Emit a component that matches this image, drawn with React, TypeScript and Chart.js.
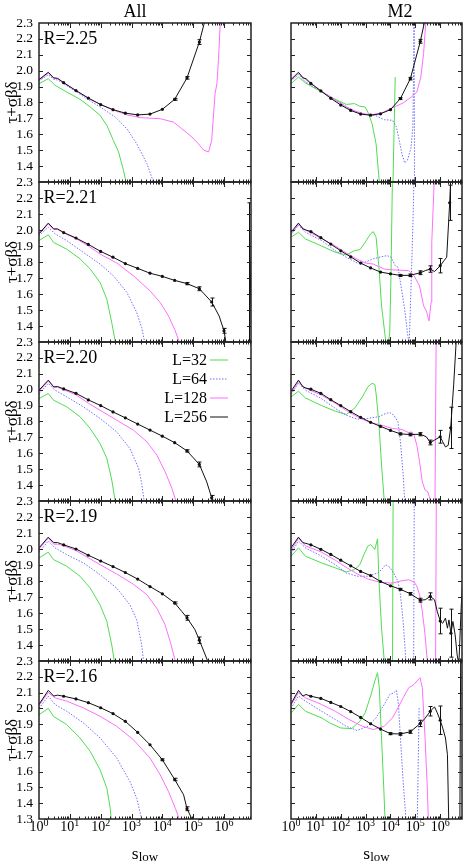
import { useEffect, useRef } from "react";
import { Chart, registerables } from "chart.js";
Chart.register(...registerables);

// Every point is [log10(s_low), tau+sigma*beta*delta].
// Black (L=256) points carry a third value: the error bar half-height (null = no marker).
type P = [number, number];
type B = [number, number, number | null];

const FONT = "'Liberation Serif', 'Times New Roman', Times, serif";
const COLUMNS = ["All", "M2"];
const R_LABELS = ["R=2.25", "R=2.21", "R=2.20", "R=2.19", "R=2.16"];
const SERIES = ["L=32", "L=64", "L=128", "L=256"];
const Y_TICKS = [1.3, 1.4, 1.5, 1.6, 1.7, 1.8, 1.9, 2.0, 2.1, 2.2, 2.3];
const X_DECADES = [0, 1, 2, 3, 4, 5, 6];
const X_MIN = 1;
const X_MAX = 7.5e6;
const COLORS = ["rgb(80,220,80)", "rgb(110,110,255)", "rgb(255,110,255)", "#111111"];
const DASH: number[][] = [[], [1.5, 1.5], [], []];

// ---------- R = 2.25 ----------
const A225_32: P[] = [[0,1.918],[0.301,1.95],[0.52,1.908],[0.9,1.866],[1.33,1.82],[1.66,1.772],[1.98,1.72],[2.2,1.656],[2.41,1.562],[2.58,1.489],[2.74,1.373],[2.82,1.3],[2.9,1.15]];
const A225_64: P[] = [[0,1.935],[0.301,1.975],[0.477,1.945],[0.602,1.942],[0.8,1.918],[1.2,1.868],[1.6,1.818],[1.98,1.772],[2.47,1.709],[2.85,1.635],[3.17,1.54],[3.5,1.415],[3.71,1.3],[3.8,1.2]];
const A225_128: P[] = [[0,1.94],[0.301,1.985],[0.477,1.953],[0.602,1.95],[0.8,1.924],[1.2,1.874],[1.6,1.827],[2.0,1.786],[2.4,1.753],[2.85,1.722],[3.28,1.705],[3.93,1.698],[4.36,1.677],[4.63,1.635],[4.96,1.583],[5.17,1.54],[5.34,1.5],[5.5,1.489],[5.6,1.562],[5.71,1.855],[5.77,1.92],[5.82,2.065],[5.89,2.35]];
const A225_256: B[] = [[0,1.944,null],[0.301,1.99,null],[0.477,1.955,null],[0.602,1.952,null],[0.8,1.925,0.003],[1.2,1.875,0.003],[1.6,1.828,0.003],[2.0,1.787,0.003],[2.4,1.755,0.003],[2.8,1.733,0.003],[3.2,1.722,0.004],[3.6,1.727,0.004],[4.0,1.757,0.005],[4.4,1.82,0.006],[4.8,1.955,0.008],[5.2,2.18,0.015],[5.36,2.3,null],[5.5,2.6,null]];
const M225_32: P[] = [[0,1.918],[0.301,1.96],[0.58,1.923],[1.23,1.866],[1.78,1.82],[2.22,1.788],[2.55,1.793],[2.77,1.776],[2.98,1.772],[3.09,1.74],[3.26,1.667],[3.42,1.54],[3.55,1.3],[3.6,1.0],[4.06,1.0],[4.19,1.96]];
const M225_64: P[] = [[0,1.935],[0.301,1.975],[0.58,1.93],[1.23,1.87],[1.78,1.818],[2.22,1.775],[2.6,1.74],[3.0,1.725],[3.37,1.72],[3.75,1.692],[4.08,1.688],[4.24,1.646],[4.35,1.562],[4.46,1.478],[4.57,1.42],[4.68,1.436],[4.82,1.51],[4.9,1.646],[4.93,2.02],[4.95,2.4],[4.97,1.0]];
const M225_128: P[] = [[0,1.94],[0.301,1.985],[0.58,1.945],[1.23,1.872],[1.78,1.815],[2.22,1.772],[2.6,1.745],[3.0,1.727],[3.3,1.725],[3.64,1.734],[4.08,1.767],[4.51,1.797],[4.84,1.835],[5.06,1.866],[5.22,1.96],[5.33,2.107],[5.44,2.35]];
const M225_256: B[] = [[0,1.944,null],[0.301,1.99,null],[0.477,1.955,null],[0.602,1.95,null],[0.8,1.92,0.003],[1.2,1.873,0.003],[1.6,1.826,0.003],[2.0,1.784,0.003],[2.4,1.75,0.003],[2.8,1.727,0.003],[3.2,1.72,0.004],[3.6,1.729,0.004],[4.0,1.755,0.005],[4.4,1.825,0.006],[4.8,1.95,0.008],[5.2,2.185,0.012],[5.36,2.3,null],[5.5,2.6,null]];

// ---------- R = 2.21 ----------
const A221_32: P[] = [[0,1.934],[0.301,1.97],[0.47,1.923],[0.9,1.88],[1.33,1.82],[1.66,1.756],[1.98,1.672],[2.2,1.568],[2.36,1.42],[2.47,1.305],[2.55,1.2]];
const A221_64: P[] = [[0,1.965],[0.301,2.018],[0.52,1.976],[0.9,1.934],[1.44,1.86],[1.98,1.787],[2.41,1.714],[2.85,1.61],[3.17,1.484],[3.33,1.39],[3.42,1.306],[3.5,1.2]];
const A221_128: P[] = [[0,1.975],[0.301,2.038],[0.477,2.003],[0.602,2.003],[0.8,1.982],[1.2,1.946],[1.6,1.9],[1.98,1.85],[2.52,1.794],[3.06,1.714],[3.6,1.62],[3.93,1.547],[4.2,1.463],[4.42,1.369],[4.55,1.3],[4.65,1.2]];
const A221_256: B[] = [[0,1.976,null],[0.301,2.043,null],[0.477,2.007,null],[0.602,2.007,null],[0.8,1.984,0.003],[1.2,1.95,0.003],[1.6,1.91,0.003],[2.0,1.866,0.003],[2.4,1.83,0.003],[2.8,1.79,0.003],[3.2,1.76,0.004],[3.6,1.73,0.004],[4.0,1.71,0.004],[4.4,1.685,0.005],[4.8,1.665,0.007],[5.2,1.633,0.012],[5.6,1.55,0.025],[5.84,1.463,null],[6.0,1.37,0.015],[6.06,1.3,null],[6.4,0.8,null],[6.78,0.8,null],[6.82,1.25,0.92],[6.9,2.1,null]];
const M221_32: P[] = [[0,1.955],[0.301,1.986],[0.58,1.944],[1.23,1.9],[1.78,1.861],[2.22,1.844],[2.55,1.871],[2.77,1.877],[2.98,1.923],[3.2,1.976],[3.31,1.99],[3.42,1.955],[3.53,1.777],[3.64,1.526],[3.8,1.317],[3.85,1.28],[3.91,1.29],[3.97,1.358],[4.02,1.714],[4.08,2.35]];
const M221_64: P[] = [[0,1.97],[0.301,2.03],[0.58,1.986],[1.23,1.934],[1.78,1.87],[2.22,1.83],[2.66,1.794],[2.9,1.794],[3.31,1.82],[3.64,1.833],[3.86,1.84],[4.02,1.83],[4.19,1.777],[4.3,1.767],[4.4,1.672],[4.57,1.505],[4.68,1.36],[4.75,1.28],[4.84,1.714],[4.9,2.03],[4.95,2.35]];
const M221_128: P[] = [[0,1.975],[0.301,2.038],[0.58,2.0],[1.23,1.946],[1.78,1.9],[2.22,1.857],[2.6,1.822],[3.0,1.793],[3.31,1.787],[3.75,1.756],[4.19,1.75],[4.73,1.746],[4.95,1.714],[5.17,1.65],[5.33,1.526],[5.44,1.495],[5.55,1.432],[5.63,1.547],[5.66,1.923],[5.77,2.35]];
const M221_256: B[] = [[0,1.986,null],[0.301,2.043,null],[0.477,2.007,null],[0.602,2.0,null],[0.8,1.99,0.003],[1.2,1.952,0.003],[1.6,1.912,0.003],[2.0,1.87,0.003],[2.4,1.832,0.003],[2.8,1.793,0.003],[3.2,1.763,0.004],[3.6,1.737,0.004],[4.0,1.726,0.005],[4.4,1.716,0.006],[4.8,1.717,0.008],[5.2,1.733,0.012],[5.4,1.746,null],[5.6,1.756,0.02],[5.77,1.74,null],[6.0,1.777,0.045],[6.15,1.808,null],[6.26,1.83,null],[6.38,2.17,0.11],[6.43,2.35,null]];

// ---------- R = 2.20 ----------
const A220_32: P[] = [[0,1.944],[0.301,1.976],[0.47,1.934],[0.9,1.892],[1.33,1.83],[1.66,1.756],[1.98,1.662],[2.2,1.568],[2.36,1.432],[2.47,1.3],[2.55,1.2]];
const A220_64: P[] = [[0,1.975],[0.301,2.04],[0.52,1.997],[0.9,1.955],[1.44,1.892],[1.98,1.819],[2.52,1.735],[2.95,1.63],[3.23,1.505],[3.33,1.41],[3.41,1.3],[3.5,1.2]];
const A220_128: P[] = [[0,1.99],[0.301,2.055],[0.477,2.015],[0.602,2.015],[0.8,2.0],[1.2,1.968],[1.6,1.915],[1.98,1.871],[2.52,1.808],[3.06,1.746],[3.5,1.672],[3.82,1.589],[4.09,1.484],[4.31,1.38],[4.44,1.3],[4.55,1.2]];
const A220_256: B[] = [[0,1.997,null],[0.301,2.06,null],[0.477,2.018,null],[0.602,2.02,null],[0.8,2.005,0.003],[1.2,1.977,0.003],[1.6,1.936,0.003],[2.0,1.9,0.003],[2.4,1.86,0.003],[2.8,1.823,0.003],[3.2,1.784,0.003],[3.6,1.746,0.004],[4.0,1.708,0.004],[4.4,1.667,0.005],[4.8,1.615,0.007],[5.2,1.53,0.015],[5.44,1.42,null],[5.6,1.32,0.015],[5.7,1.2,null]];
const M220_32: P[] = [[0,1.955],[0.301,1.99],[0.58,1.948],[1.23,1.9],[1.78,1.865],[2.22,1.844],[2.55,1.882],[2.87,1.955],[3.09,2.018],[3.26,2.04],[3.37,2.033],[3.42,1.976],[3.53,1.798],[3.64,1.526],[3.75,1.3],[3.82,1.2]];
const M220_64: P[] = [[0,1.97],[0.301,2.043],[0.58,1.997],[1.23,1.944],[1.78,1.882],[2.22,1.84],[2.66,1.815],[3.09,1.82],[3.53,1.83],[3.8,1.85],[3.97,1.856],[4.13,1.84],[4.3,1.798],[4.4,1.672],[4.51,1.463],[4.57,1.306],[4.62,1.2]];
const M220_128: P[] = [[0,1.975],[0.301,2.05],[0.58,2.01],[1.23,1.965],[1.78,1.915],[2.22,1.87],[2.6,1.835],[3.0,1.805],[3.3,1.79],[3.64,1.777],[4.08,1.756],[4.46,1.75],[4.73,1.73],[4.84,1.735],[4.95,1.714],[5.06,1.65],[5.17,1.547],[5.28,1.42],[5.39,1.369],[5.5,1.358],[5.58,1.317],[5.65,1.1],[5.78,1.1],[5.84,2.4]];
const M220_256: B[] = [[0,1.99,null],[0.301,2.06,null],[0.477,2.018,null],[0.602,2.01,null],[0.8,2.003,0.003],[1.2,1.977,0.003],[1.6,1.937,0.003],[2.0,1.9,0.003],[2.4,1.862,0.003],[2.8,1.826,0.003],[3.2,1.795,0.004],[3.6,1.769,0.004],[4.0,1.744,0.005],[4.4,1.722,0.006],[4.8,1.718,0.008],[5.2,1.72,0.01],[5.44,1.704,null],[5.6,1.668,0.015],[5.77,1.683,null],[6.0,1.704,0.04],[6.1,1.672,null],[6.21,1.64,null],[6.32,1.65,null],[6.42,1.76,0.13],[6.54,2.03,null],[6.64,2.3,null],[6.7,2.5,null]];

// ---------- R = 2.19 ----------
const A219_32: P[] = [[0,1.944],[0.301,1.98],[0.47,1.934],[0.9,1.892],[1.33,1.83],[1.66,1.756],[1.98,1.651],[2.2,1.547],[2.36,1.4],[2.44,1.3],[2.52,1.2]];
const A219_64: P[] = [[0,1.98],[0.301,2.05],[0.52,2.007],[0.9,1.965],[1.44,1.913],[1.98,1.84],[2.52,1.756],[2.95,1.651],[3.17,1.557],[3.33,1.4],[3.39,1.3],[3.45,1.2]];
const A219_128: P[] = [[0,2.0],[0.301,2.068],[0.477,2.03],[0.602,2.03],[0.8,2.02],[1.2,1.99],[1.6,1.945],[1.98,1.902],[2.52,1.844],[3.06,1.78],[3.5,1.714],[3.82,1.63],[4.09,1.526],[4.27,1.41],[4.42,1.3],[4.5,1.2]];
const A219_256: B[] = [[0,2.007,null],[0.301,2.074,null],[0.477,2.04,null],[0.602,2.04,null],[0.8,2.026,0.003],[1.2,2.0,0.003],[1.6,1.961,0.003],[2.0,1.925,0.003],[2.4,1.89,0.003],[2.8,1.853,0.003],[3.2,1.812,0.004],[3.6,1.765,0.004],[4.0,1.72,0.005],[4.4,1.663,0.006],[4.63,1.61,null],[4.8,1.57,0.015],[5.06,1.495,null],[5.2,1.43,0.02],[5.47,1.3,null],[5.6,1.2,null]];
const M219_32: P[] = [[0,1.955],[0.301,2.007],[0.58,1.955],[1.23,1.913],[1.78,1.882],[2.22,1.856],[2.55,1.871],[2.77,1.902],[2.93,1.965],[3.09,2.018],[3.2,2.028],[3.37,1.997],[3.48,2.064],[3.53,1.82],[3.64,1.505],[3.75,1.3],[3.9,0.8],[4.07,0.8],[4.11,2.5]];
const M219_64: P[] = [[0,1.97],[0.301,2.05],[0.58,2.007],[1.23,1.955],[1.78,1.902],[2.22,1.85],[2.66,1.83],[3.09,1.83],[3.48,1.85],[3.64,1.871],[3.8,1.902],[3.97,1.886],[4.13,1.85],[4.3,1.798],[4.4,1.714],[4.51,1.547],[4.62,1.3],[4.7,0.8],[4.92,0.8],[4.96,2.5]];
const M219_128: P[] = [[0,1.99],[0.301,2.068],[0.58,2.02],[1.23,1.98],[1.78,1.93],[2.22,1.885],[2.66,1.845],[3.09,1.812],[3.64,1.79],[4.08,1.787],[4.4,1.8],[4.73,1.808],[4.95,1.794],[5.06,1.767],[5.17,1.714],[5.28,1.61],[5.39,1.463],[5.48,1.3],[5.6,0.8],[5.8,0.8],[5.85,2.6]];
const M219_256: B[] = [[0,2.007,null],[0.301,2.074,null],[0.477,2.04,null],[0.602,2.035,null],[0.8,2.026,0.003],[1.2,1.998,0.003],[1.6,1.966,0.003],[2.0,1.93,0.003],[2.4,1.895,0.003],[2.8,1.86,0.003],[3.2,1.834,0.004],[3.6,1.797,0.004],[4.0,1.77,0.005],[4.4,1.748,0.006],[4.8,1.72,0.008],[5.2,1.68,0.012],[5.4,1.683,null],[5.6,1.704,0.022],[5.77,1.683,null],[5.88,1.61,null],[6.0,1.55,0.08],[6.1,1.536,null],[6.21,1.568,null],[6.29,1.505,null],[6.35,1.557,null],[6.43,1.474,0.15],[6.51,1.547,null],[6.6,1.463,null],[6.68,1.338,null],[6.75,1.28,null],[6.84,1.63,null],[6.9,1.8,null]];

// ---------- R = 2.16 ----------
const A216_32: P[] = [[0,1.96],[0.301,2.0],[0.47,1.95],[0.9,1.897],[1.33,1.813],[1.66,1.728],[1.98,1.612],[2.2,1.495],[2.31,1.368],[2.34,1.3],[2.4,1.2]];
const A216_64: P[] = [[0,2.0],[0.301,2.078],[0.52,2.025],[0.9,1.982],[1.44,1.908],[1.98,1.813],[2.52,1.686],[2.95,1.537],[3.17,1.43],[3.33,1.3],[3.4,1.2]];
const A216_128: P[] = [[0,2.02],[0.301,2.1],[0.52,2.067],[0.9,2.046],[1.44,2.003],[1.98,1.95],[2.52,1.887],[3.06,1.802],[3.6,1.686],[3.93,1.58],[4.2,1.474],[4.42,1.368],[4.55,1.3],[4.62,1.2]];
const A216_256: B[] = [[0,2.025,null],[0.301,2.114,null],[0.477,2.078,null],[0.602,2.084,null],[0.8,2.077,0.003],[1.2,2.06,0.003],[1.6,2.036,0.003],[2.0,2.004,0.003],[2.4,1.967,0.003],[2.8,1.918,0.004],[3.2,1.848,0.004],[3.6,1.77,0.005],[4.0,1.675,0.006],[4.4,1.55,0.008],[4.69,1.453,null],[4.8,1.365,0.012],[4.96,1.3,null],[5.1,1.1,null]];
const M216_32: P[] = [[0,1.97],[0.301,2.025],[0.58,1.982],[1.23,1.94],[1.56,1.908],[2.0,1.876],[2.44,1.872],[2.77,1.919],[2.98,1.972],[3.2,2.078],[3.37,2.173],[3.48,2.226],[3.55,2.13],[3.64,1.813],[3.73,1.495],[3.78,1.3],[3.85,1.1]];
const M216_64: P[] = [[0,2.0],[0.301,2.078],[0.58,2.046],[1.23,1.982],[1.78,1.93],[2.22,1.887],[2.66,1.86],[3.09,1.887],[3.42,1.94],[3.75,2.025],[3.97,2.088],[4.13,2.099],[4.24,2.114],[4.32,2.025],[4.4,1.813],[4.51,1.537],[4.62,1.3],[4.7,1.0],[5.05,1.0],[5.15,2.003]];
const M216_128: P[] = [[0,2.02],[0.301,2.1],[0.58,2.067],[1.23,2.025],[1.78,1.982],[2.33,1.93],[2.87,1.887],[3.31,1.866],[3.75,1.887],[4.08,1.94],[4.3,2.003],[4.51,2.067],[4.73,2.13],[4.95,2.152],[5.06,2.173],[5.19,2.194],[5.28,2.13],[5.39,1.813],[5.48,1.495],[5.52,1.3],[5.58,1.1]];
const M216_256: B[] = [[0,2.029,null],[0.301,2.114,null],[0.477,2.078,null],[0.602,2.088,null],[0.8,2.077,0.003],[1.2,2.063,0.003],[1.6,2.038,0.003],[2.0,2.012,0.003],[2.4,1.98,0.003],[2.8,1.943,0.004],[3.2,1.903,0.004],[3.6,1.869,0.005],[4.0,1.84,0.006],[4.4,1.838,0.008],[4.8,1.852,0.01],[5.2,1.905,0.02],[5.38,1.935,null],[5.6,1.982,0.03],[5.77,2.01,null],[5.88,1.972,null],[6.0,1.925,0.09],[6.1,1.876,null],[6.21,1.813,null],[6.29,1.707,null],[6.34,1.3,null],[6.4,1.0,null],[6.78,1.0,null],[6.83,2.6,null]];

const PANELS: [P[], P[], P[], B[]][][] = [
  [[A225_32, A225_64, A225_128, A225_256], [M225_32, M225_64, M225_128, M225_256]],
  [[A221_32, A221_64, A221_128, A221_256], [M221_32, M221_64, M221_128, M221_256]],
  [[A220_32, A220_64, A220_128, A220_256], [M220_32, M220_64, M220_128, M220_256]],
  [[A219_32, A219_64, A219_128, A219_256], [M219_32, M219_64, M219_128, M219_256]],
  [[A216_32, A216_64, A216_128, A216_256], [M216_32, M216_64, M216_128, M216_256]],
];

// page layout of the plot frames
const TOPS = [23, 182, 342, 501, 661];
const BOTS = [182, 342, 501, 661, 819];

function decorPlugin(row: number, col: number) {
  return {
    id: "decor" + row + col,
    afterDraw(chart: any) {
      const { ctx, chartArea: a } = chart;
      const xs = chart.scales.x;
      const ys = chart.scales.y;
      const black = chart.data.datasets[3].data as any[];
      // error bars
      ctx.save();
      ctx.beginPath();
      ctx.rect(a.left, a.top, a.right - a.left, a.bottom - a.top);
      ctx.clip();
      ctx.strokeStyle = COLORS[3];
      ctx.lineWidth = 1;
      ctx.beginPath();
      for (const p of black) {
        if (p.e == null || p.e < 0.006) continue;
        const px = Math.round(xs.getPixelForValue(p.x)) + 0.5;
        const y1 = ys.getPixelForValue(p.y + p.e);
        const y2 = ys.getPixelForValue(p.y - p.e);
        ctx.moveTo(px, y1);
        ctx.lineTo(px, y2);
        ctx.moveTo(px - 2, y1);
        ctx.lineTo(px + 2, y1);
        ctx.moveTo(px - 2, y2);
        ctx.lineTo(px + 2, y2);
      }
      ctx.stroke();
      ctx.restore();

      ctx.save();
      // frame
      ctx.strokeStyle = "#222";
      ctx.lineWidth = 1.5;
      ctx.strokeRect(a.left, a.top, a.right - a.left, a.bottom - a.top);
      // ticks
      ctx.lineWidth = 1;
      ctx.beginPath();
      for (const v of Y_TICKS.slice(1, -1)) {
        const py = Math.round(ys.getPixelForValue(v)) + 0.5;
        ctx.moveTo(a.left, py);
        ctx.lineTo(a.left + 4, py);
        ctx.moveTo(a.right, py);
        ctx.lineTo(a.right - 4, py);
      }
      for (const d of X_DECADES) {
        for (let m = 1; m <= 9; m++) {
          const v = m * Math.pow(10, d);
          if (v <= X_MIN || v >= X_MAX) continue;
          const px = Math.round(xs.getPixelForValue(v)) + 0.5;
          const len = m === 1 ? 5 : 2.5;
          ctx.moveTo(px, a.bottom);
          ctx.lineTo(px, a.bottom - len);
          ctx.moveTo(px, a.top);
          ctx.lineTo(px, a.top + len);
        }
      }
      ctx.stroke();

      ctx.fillStyle = "#000";
      ctx.textBaseline = "alphabetic";
      // column titles
      if (row === 0) {
        ctx.font = `18px ${FONT}`;
        ctx.textAlign = "center";
        ctx.fillText(COLUMNS[col], a.left + (col === 0 ? 96 : 109), a.top - 6);
      }
      // R label
      if (col === 0) {
        ctx.font = `18px ${FONT}`;
        ctx.textAlign = "left";
        ctx.fillText(R_LABELS[row], a.left + 4.5, a.top + 20.5);
      }
      // legend
      if (row === 2 && col === 0) {
        ctx.font = `16px ${FONT}`;
        SERIES.forEach((lab, i) => {
          const cy = a.top + 17.5 + 19 * i;
          ctx.textAlign = "right";
          ctx.fillStyle = "#000";
          ctx.fillText(lab, a.right - 44, cy + 5.5);
          ctx.strokeStyle = COLORS[i];
          ctx.setLineDash(DASH[i]);
          ctx.beginPath();
          ctx.moveTo(a.right - 41, cy + 0.5);
          ctx.lineTo(a.right - 23, cy + 0.5);
          ctx.stroke();
          ctx.setLineDash([]);
        });
      }
      // x tick labels and axis title
      if (row === 4) {
        ctx.textAlign = "left";
        for (const d of X_DECADES) {
          const px = xs.getPixelForValue(Math.pow(10, d));
          ctx.font = `14px ${FONT}`;
          const w1 = ctx.measureText("10").width;
          ctx.font = `10px ${FONT}`;
          const w2 = ctx.measureText(String(d)).width;
          const x0 = px - (w1 + w2) / 2;
          ctx.font = `14px ${FONT}`;
          ctx.fillText("10", x0, a.bottom + 12);
          ctx.font = `10px ${FONT}`;
          ctx.fillText(String(d), x0 + w1, a.bottom + 6.5);
        }
        ctx.font = `17.5px ${FONT}`;
        const ws = ctx.measureText("s").width;
        ctx.font = `13px ${FONT}`;
        const wl = ctx.measureText("low").width;
        const cx = (a.left + a.right) / 2 - (ws + wl) / 2;
        ctx.font = `17.5px ${FONT}`;
        ctx.fillText("s", cx, a.bottom + 40);
        ctx.font = `13px ${FONT}`;
        ctx.fillText("low", cx + ws, a.bottom + 42);
      }
      ctx.restore();
    },
  };
}

function Panel({ row, col }: { row: number; col: number }) {
  const ref = useRef<HTMLCanvasElement>(null);
  const top = TOPS[row];
  const bot = BOTS[row];
  const cTop = row === 0 ? 0 : top - 16;
  const cBot = row === 4 ? 864 : bot + 16;
  const cLeft = col === 0 ? 0 : 240;
  const cW = col === 0 ? 258 : 229;
  const cH = cBot - cTop;

  useEffect(() => {
    const set = PANELS[row][col];
    const datasets = set.map((arr: any[], i: number) => ({
      label: SERIES[i],
      data:
        i === 3
          ? (arr as B[]).map(([lg, v, e]) => ({ x: Math.pow(10, lg), y: v, e }))
          : (arr as P[]).map(([lg, v]) => ({ x: Math.pow(10, lg), y: v })),
      borderColor: COLORS[i],
      backgroundColor: COLORS[i],
      borderDash: DASH[i],
      borderWidth: 1,
      pointRadius: i === 3 ? (c: any) => (c.raw && c.raw.e != null ? 1.6 : 0) : 0,
      pointBackgroundColor: COLORS[i],
      pointBorderWidth: 0,
      pointHoverRadius: 0,
      tension: 0,
      fill: false,
      clip: 0,
      order: 3 - i,
    }));
    const chart = new Chart(ref.current as HTMLCanvasElement, {
      type: "line",
      data: { datasets } as any,
      options: {
        responsive: false,
        animation: false,
        events: [],
        layout: {
          padding: { left: col === 0 ? 0 : 12, right: 7, top: top - cTop, bottom: cBot - bot },
        },
        plugins: { legend: { display: false }, tooltip: { enabled: false } },
        scales: {
          x: { type: "logarithmic", min: X_MIN, max: X_MAX, display: false },
          y: {
            type: "linear",
            min: 1.3,
            max: 2.3,
            display: col === 0,
            afterFit: (s: any) => {
              s.width = 39;
            },
            afterBuildTicks: (s: any) => {
              s.ticks = Y_TICKS.map((v) => ({ value: v }));
            },
            grid: { display: false, drawTicks: false },
            border: { display: false },
            ticks: {
              autoSkip: false,
              padding: 6,
              color: "#000",
              font: { family: FONT, size: 13.5 },
              callback: (v: any) => (Number(v) < 1.35 && row < 4 ? "" : Number(v).toFixed(1)),
            },
            title: {
              display: true,
              text: "τ+σβδ",
              color: "#000",
              font: { family: FONT, size: 17 },
              padding: { top: 2, bottom: 0 },
            },
          },
        },
      } as any,
      plugins: [decorPlugin(row, col)],
    });
    return () => chart.destroy();
  }, []);

  return (
    <canvas
      ref={ref}
      width={cW}
      height={cH}
      style={{ position: "absolute", left: cLeft, top: cTop, width: cW, height: cH }}
    />
  );
}

export default function App() {
  const cells = [];
  for (let r = 0; r < 5; r++) for (let c = 0; c < 2; c++) cells.push(<Panel key={r + "-" + c} row={r} col={c} />);
  return (
    <div style={{ position: "absolute", left: 0, top: 0, width: 469, height: 864, background: "#fff", overflow: "hidden" }}>
      {cells}
    </div>
  );
}
